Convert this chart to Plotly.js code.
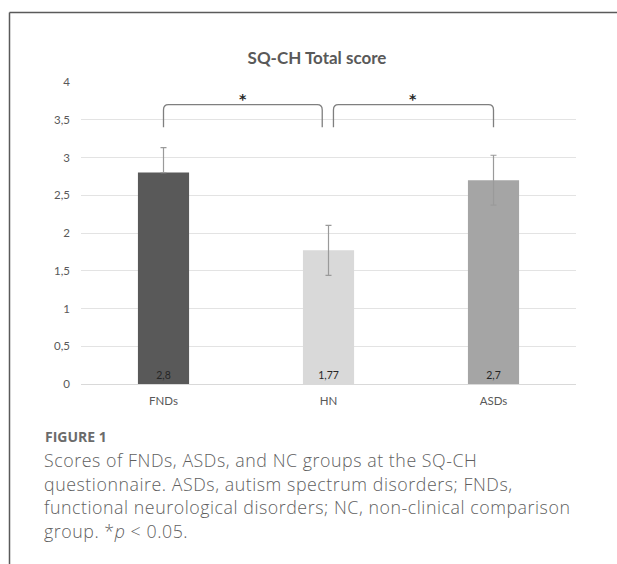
<!DOCTYPE html>
<html>
<head>
<meta charset="utf-8">
<script src="https://cdn.plot.ly/plotly-3.0.1.min.js"></script>
<style>
html,body{margin:0;padding:0;background:#fff;}
#chart{width:617px;height:564px;}
</style>
</head>
<body>
<div id="chart"></div>
<script>
// ---- data ----
const categories = ["FNDs", "HN", "ASDs"];
const scores = [2.8, 1.77, 2.7];
const errPlus = [0.33, 0.33, 0.33];
const errMinus = [0.33, 0.33, 0.33];
const barColors = ["#595959", "#d9d9d9", "#a5a5a5"];
const yTicks = [0, 0.5, 1, 1.5, 2, 2.5, 3, 3.5, 4];
const titleText = "SQ-CH Total score";
const figureLabel = "FIGURE 1";
const captionLines = [
  "Scores of FNDs, ASDs, and NC groups at the SQ-CH",
  "questionnaire. ASDs, autism spectrum disorders; FNDs,",
  "functional neurological disorders; NC, non-clinical comparison",
  "group. *<i>p</i> &lt; 0.05."
];
// significance comparisons: [from index, to index]
const comparisons = [[0, 1], [1, 2]];
const sigLabel = "*";

// ---- geometry helpers (pixel -> paper) ----
const W = 617, H = 564;
const M = {l: 81, r: 41, t: 82, b: 180};
const pw = W - M.l - M.r, ph = H - M.t - M.b;
const px = x => (x - M.l) / pw;
const py = y => (H - M.b - y) / ph;

const xIdx = categories.map((c, i) => i);

const trace = {
  type: "bar",
  x: xIdx,
  y: scores,
  width: 0.31,
  marker: {color: barColors, line: {width: 0}},
  text: scores.map(v => String(v).replace(".", ",")),
  textposition: "inside",
  insidetextanchor: "start",
  textangle: 0,
  insidetextfont: {family: "Lato, 'Open Sans', sans-serif", size: 10.5, color: "#262626"},
  constraintext: "none",
  error_y: {
    type: "data", symmetric: false,
    array: errPlus,
    arrayminus: errMinus.map((v, i) => i === 0 ? 0 : v),
    color: "#9a9a9a", thickness: 1.2, width: 3
  },
  hoverinfo: "skip"
};

const shapes = [];
const annotations = [];
const rx = 0.03, ry = 0.07, yTop = 3.70, yBot = 3.40;
comparisons.forEach(([a, b], k) => {
  const x0 = k === 0 ? a : a + 0.03;
  const x1 = k === 0 ? b - 0.038 : b;
  shapes.push({
    type: "path", xref: "x", yref: "y",
    path: `M ${x0},${yBot} L ${x0},${yTop - ry} Q ${x0},${yTop} ${x0 + rx},${yTop} L ${x1 - rx},${yTop} Q ${x1},${yTop} ${x1},${yTop - ry} L ${x1},${yBot}`,
    line: {color: "#7f7f7f", width: 1.3}
  });
  annotations.push({
    xref: "x", yref: "y", x: (x0 + x1) / 2, y: yTop, yanchor: "bottom", yshift: -4,
    text: "<b>" + sigLabel + "</b>", showarrow: false,
    font: {family: "DejaVu Sans, sans-serif", size: 14, color: "#262626"}
  });
});

// frame lines (left and top)
shapes.push({type: "line", xref: "paper", yref: "paper", x0: px(9.5), x1: px(9.5), y0: py(12.5), y1: py(H + 2), line: {color: "#5a5a5a", width: 1.5}});
shapes.push({type: "line", xref: "paper", yref: "paper", x0: px(9.5), x1: px(W + 2), y0: py(12.5), y1: py(12.5), line: {color: "#5a5a5a", width: 1.5}});

// caption
annotations.push({
  xref: "paper", yref: "paper", x: px(43), y: py(437), xanchor: "left", yanchor: "middle",
  text: "<b>" + figureLabel + "</b>", showarrow: false, align: "left",
  font: {family: "'Open Sans', sans-serif", size: 14, color: "#6b6b6b"}
});
const capY = [460, 483.5, 507, 530.5];
captionLines.forEach((t, i) => {
  annotations.push({
    xref: "paper", yref: "paper", x: px(42), y: py(capY[i]), xanchor: "left", yanchor: "middle",
    text: '<span style="letter-spacing:0.55px">' + t + '</span>', showarrow: false, align: "left",
    font: {family: "'Open Sans', sans-serif", size: 17.8, color: "#5f5f5f", weight: 300}
  });
});

const layout = {
  width: W, height: H,
  margin: M,
  paper_bgcolor: "#fff", plot_bgcolor: "#fff",
  separators: ",.",
  showlegend: false,
  title: {
    text: "<b>" + titleText + "</b>",
    x: 317 / W, xref: "container", xanchor: "center",
    y: 1 - 58 / H, yref: "container", yanchor: "middle",
    font: {family: "Lato, 'Open Sans', sans-serif", size: 17, color: "#595959"}
  },
  xaxis: {
    range: [-0.5, 2.5],
    tickvals: xIdx, ticktext: categories,
    showgrid: false, zeroline: false, showline: false, ticks: "",
    tickfont: {family: "Lato, 'Open Sans', sans-serif", size: 11.5, color: "#595959"},
    ticklabelstandoff: 8,
    fixedrange: true
  },
  yaxis: {
    range: [0, 4],
    tickvals: yTicks,
    showgrid: true, gridcolor: "#e3e3e3", gridwidth: 1,
    zeroline: true, zerolinecolor: "#d9d9d9", zerolinewidth: 1,
    showline: false, ticks: "", ticklen: 0,
    tickfont: {family: "Lato, 'Open Sans', sans-serif", size: 11.5, color: "#595959"},
    ticklabelstandoff: 10,
    fixedrange: true
  },
  shapes: shapes,
  annotations: annotations
};

Plotly.newPlot("chart", [trace], layout, {displayModeBar: false, staticPlot: true});
</script>
</body>
</html>
